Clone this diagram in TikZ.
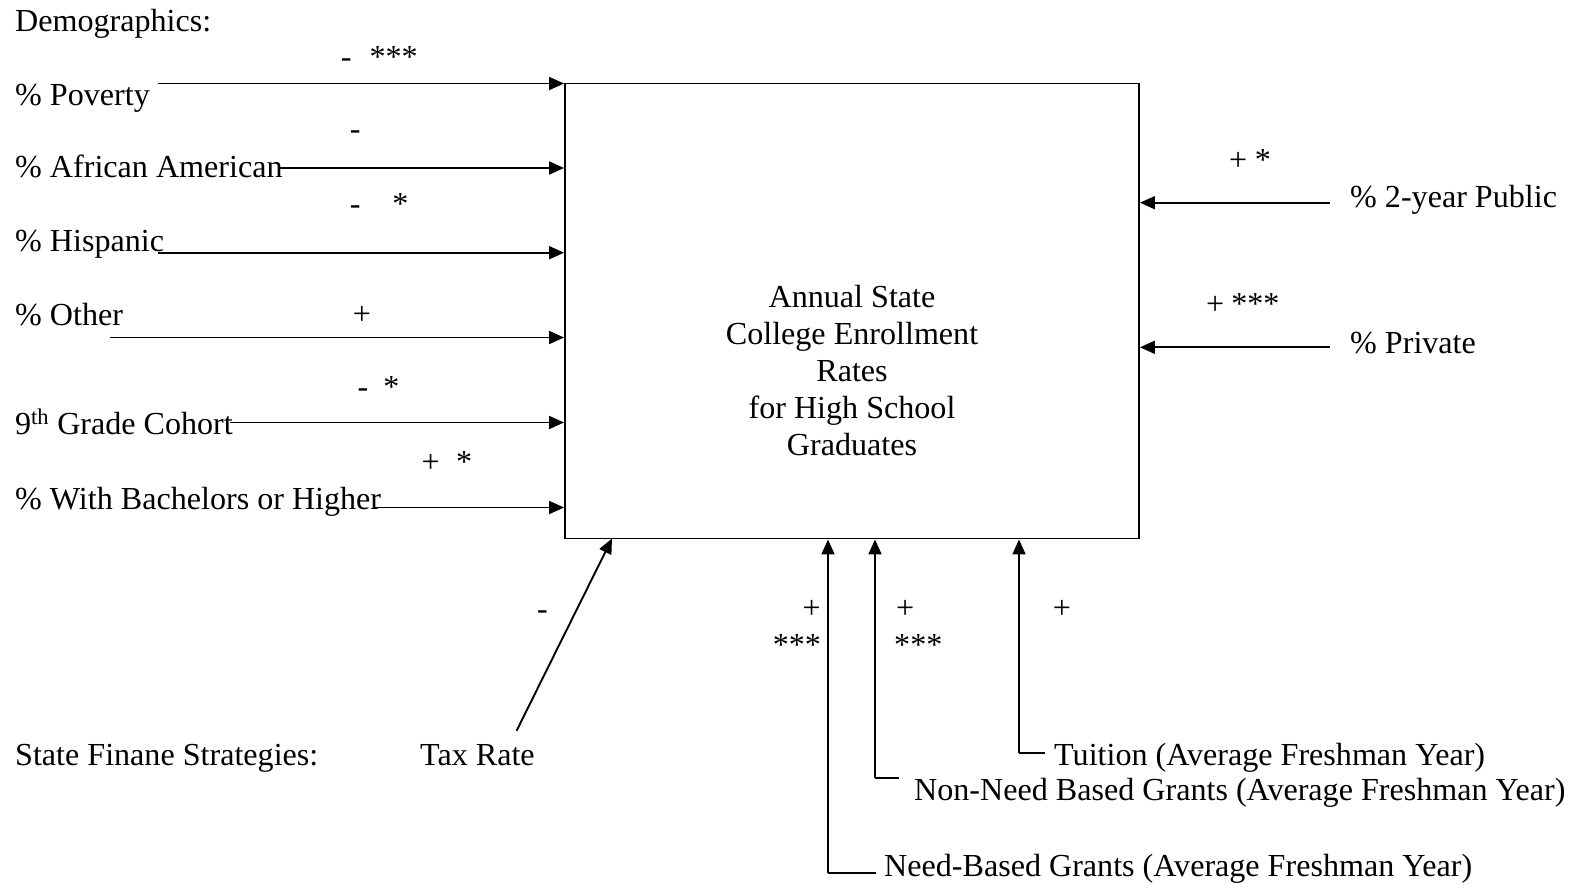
\documentclass[tikz,border=0pt]{standalone}
\usepackage{fontspec}
\setmainfont{Liberation Serif}
\usetikzlibrary{arrows.meta}
\newcommand\dfont{\fontsize{32.1}{36.8}\selectfont}
\tikzset{
  lbl/.style={anchor=base west, inner sep=0pt, font=\dfont},
  sgn/.style={anchor=base west, inner sep=0pt, font=\dfont},
  arr/.style={line width=1.9pt, -{Triangle[length=15pt,width=13pt]}},
  con/.style={line width=1.7pt},
  mainbox/.style={draw, line width=1.9pt, minimum width=574pt, minimum height=455pt, inner sep=0pt}
}
\begin{document}
\begin{tikzpicture}[x=1pt,y=-1pt]
\useasboundingbox (0,0) rectangle (1579,884);
% central box
\node[mainbox] (box) at (852,311) {};
\node[font=\dfont, align=center, inner sep=0pt, anchor=center] (title) at (852,370.5)
  {Annual State\\College Enrollment\\Rates\\for High School\\Graduates};
% left labels
\node[lbl] (demo) at (15,31) {Demographics:};
\node[lbl] (pov) at (15,105) {\% Poverty};
\node[lbl] (afr) at (15,177.5) {\% African American};
\node[lbl] (his) at (15,251) {\% Hispanic};
\node[lbl] (oth) at (15,325) {\% Other};
\node[lbl] (ninth) at (15,434) {9\textsuperscript{th} Grade Cohort};
\node[lbl] (bach) at (15,509) {\% With Bachelors or Higher};
% left arrows
\coordinate (spov) at (158,83.5);
\coordinate (safr) at (279,168);
\coordinate (shis) at (158,252.7);
\coordinate (soth) at (110,337.5);
\coordinate (snin) at (229.6,422.5);
\coordinate (sbac) at (375,507.5);
\draw[arr] (spov) -- (spov -| box.west);
\draw[arr] (safr) -- (safr -| box.west);
\draw[arr] (shis) -- (shis -| box.west);
\draw[arr] (soth) -- (soth -| box.west);
\draw[arr] (snin) -- (snin -| box.west);
\draw[arr] (sbac) -- (sbac -| box.west);
% left signs
\node[sgn] (g1) at (340.7,67) {-\hspace{18pt}***};
\node[sgn] (g2) at (349.7,139) {-};
\node[sgn] (g3) at (349.7,214) {-\hspace{31.7pt}*};
\node[sgn] (g4) at (352.6,324.7) {+};
\node[sgn] (g5) at (357.5,397.5) {-\hspace{15pt}*};
\node[sgn] (g6) at (421.5,472.5) {+\hspace{16.4pt}*};
% right labels and arrows
\node[lbl] (two) at (1350,207) {\% 2-year Public};
\node[lbl] (priv) at (1350,353.3) {\% Private};
\coordinate (stwo) at (1330,202.7);
\coordinate (spri) at (1330,347.3);
\draw[arr] (stwo) -- (stwo -| box.east);
\draw[arr] (spri) -- (spri -| box.east);
\node[sgn] (g7) at (1229,170.5) {+\hspace{7.7pt}*};
\node[sgn] (g8) at (1206,314) {+\hspace{7pt}***};
% bottom labels
\node[lbl] (state) at (15,765) {State Finane Strategies:};
\node[lbl] (tax) at (420,765) {Tax Rate};
\node[lbl] (tui) at (1054,765) {Tuition (Average Freshman Year)};
\node[lbl] (nonneed) at (914,800) {Non-Need Based Grants (Average Freshman Year)};
\node[lbl] (need) at (884,876.7) {Need-Based Grants (Average Freshman Year)};
% bottom connectors
\coordinate (stax) at (516.6,730.7);
\coordinate (etax) at (612,538.5);
\draw[arr] (stax) -- (etax);
\coordinate (ctui) at (1045,753.3);
\coordinate (cnon) at (899,778.3);
\coordinate (cnee) at (876,873.3);
\draw[con] (ctui) -- (1019,753.3) coordinate (ktui);
\draw[arr] (ktui) -- (ktui |- box.south);
\draw[con] (cnon) -- (875,778.3) coordinate (knon);
\draw[arr] (knon) -- (knon |- box.south);
\draw[con] (cnee) -- (828,873.3) coordinate (knee);
\draw[arr] (knee) -- (knee |- box.south);
% bottom signs
\node[sgn] (h1) at (537,619) {-};
\node[sgn] (h2) at (802.4,618.7) {+};
\node[sgn] (h3) at (772.6,655) {***};
\node[sgn] (h4) at (895.8,618.7) {+};
\node[sgn] (h5) at (894,655) {***};
\node[sgn] (h6) at (1052.7,618.7) {+};
\end{tikzpicture}
\end{document}
